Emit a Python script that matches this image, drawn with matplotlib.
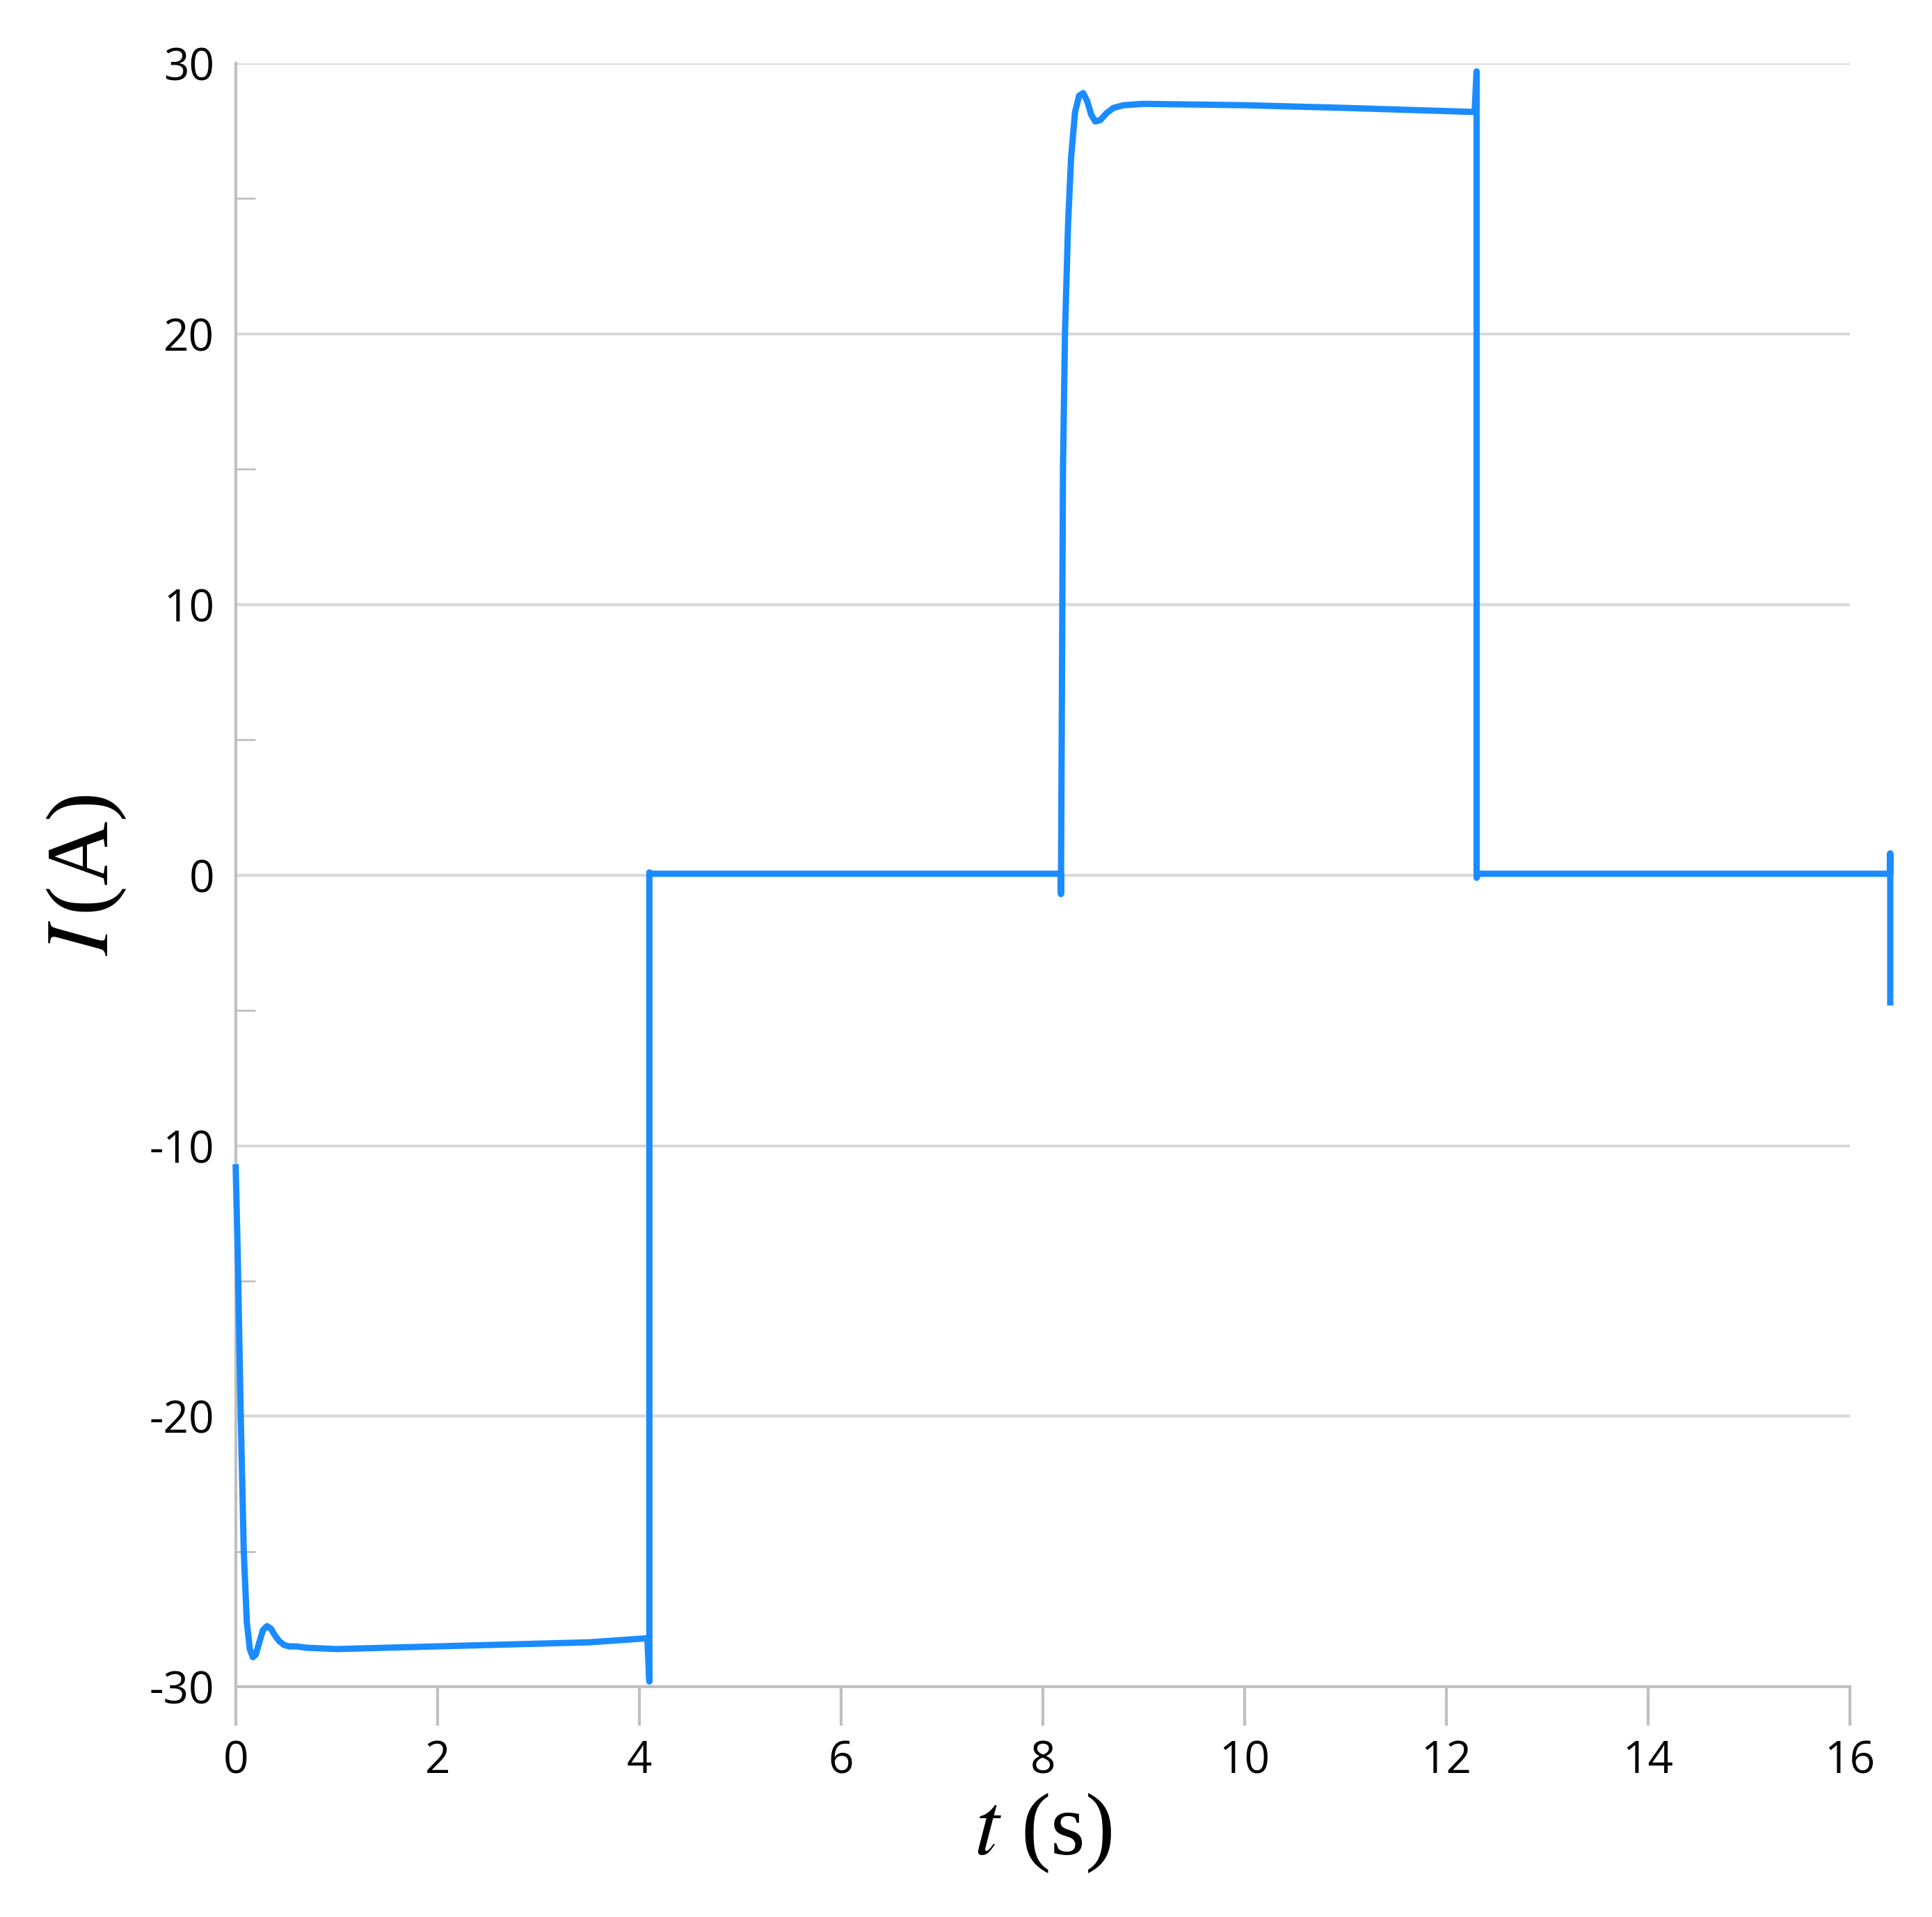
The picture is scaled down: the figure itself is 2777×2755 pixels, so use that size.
import numpy as np
import matplotlib
matplotlib.use("Agg")
import matplotlib.pyplot as plt

# current trace (t in s, I in A)
t_vals = [0.0, 0.02, 0.05, 0.08, 0.11, 0.14, 0.17, 0.2, 0.23, 0.27, 0.31, 0.35, 0.39, 0.43, 0.48, 0.53, 0.6, 0.7, 1.0, 1.5, 2.5, 3.5, 4.08,
          4.08, 4.1, 4.1, 4.12,
          6.0, 8.18, 8.18, 8.2, 8.22, 8.25, 8.28, 8.32, 8.36, 8.4, 8.44, 8.48, 8.52, 8.57, 8.63, 8.7, 8.8, 9.0, 10.0, 11.0, 12.28,
          12.28, 12.3, 12.3, 12.32,
          14.0, 16.4, 16.4, 16.4]
i_vals = [-10.8, -14.0, -20.0, -25.0, -27.6, -28.6, -28.9, -28.8, -28.4, -27.9, -27.75, -27.85, -28.1, -28.3, -28.45, -28.5, -28.5, -28.55, -28.6, -28.55, -28.45, -28.35, -28.2,
          -28.2, -29.8, 0.1, 0.05,
          0.05, 0.05, -0.7, 15.0, 20.0, 24.0, 26.5, 28.2, 28.8, 28.9, 28.6, 28.1, 27.85, 27.9, 28.15, 28.35, 28.45, 28.5, 28.45, 28.35, 28.2,
          28.2, 29.7, -0.1, 0.05,
          0.05, 0.05, 0.8, -4.7]

x_ticks = [0, 2, 4, 6, 8, 10, 12, 14, 16]
y_ticks = [-30, -20, -10, 0, 10, 20, 30]

plt.rcParams['font.family'] = ['Open Sans', 'DejaVu Sans']
plt.rcParams['mathtext.fontset'] = 'stix'
plt.rcParams['axes.unicode_minus'] = False

fig = plt.figure(figsize=(27.77, 27.55), dpi=100)
ax = fig.add_axes([0.122, 0.12, 0.8355, 0.847])

ax.plot(t_vals, i_vals, color='#1a8cff', linewidth=6.5, clip_on=False, zorder=3)

ax.set_xlim(0, 16)
ax.set_ylim(-30, 30)
ax.set_xticks(x_ticks)
ax.set_yticks(y_ticks)
ax.set_yticks([-25, -15, -5, 5, 15, 25], minor=True)
ax.grid(axis='y', which='major', color='#d9d9d9', linewidth=3)

for side in ['top', 'right']:
    ax.spines[side].set_visible(False)
for side in ['left', 'bottom']:
    ax.spines[side].set_color('#c0c0c0')
    ax.spines[side].set_linewidth(3)

ax.tick_params(axis='x', direction='out', length=40, width=3, color='#c0c0c0', labelsize=46, pad=14)
ax.tick_params(axis='y', which='major', length=0, labelsize=46, pad=22)
ax.tick_params(axis='y', which='minor', direction='in', length=20, width=2, color='#c0c0c0')

ax.set_xlabel(r'$t$ (s)', fontsize=92, family='Liberation Serif', labelpad=8)
ax.set_ylabel(r'$I\,$(A)', fontsize=92, family='Liberation Serif', labelpad=22)

plt.savefig('out.png', dpi=100)
